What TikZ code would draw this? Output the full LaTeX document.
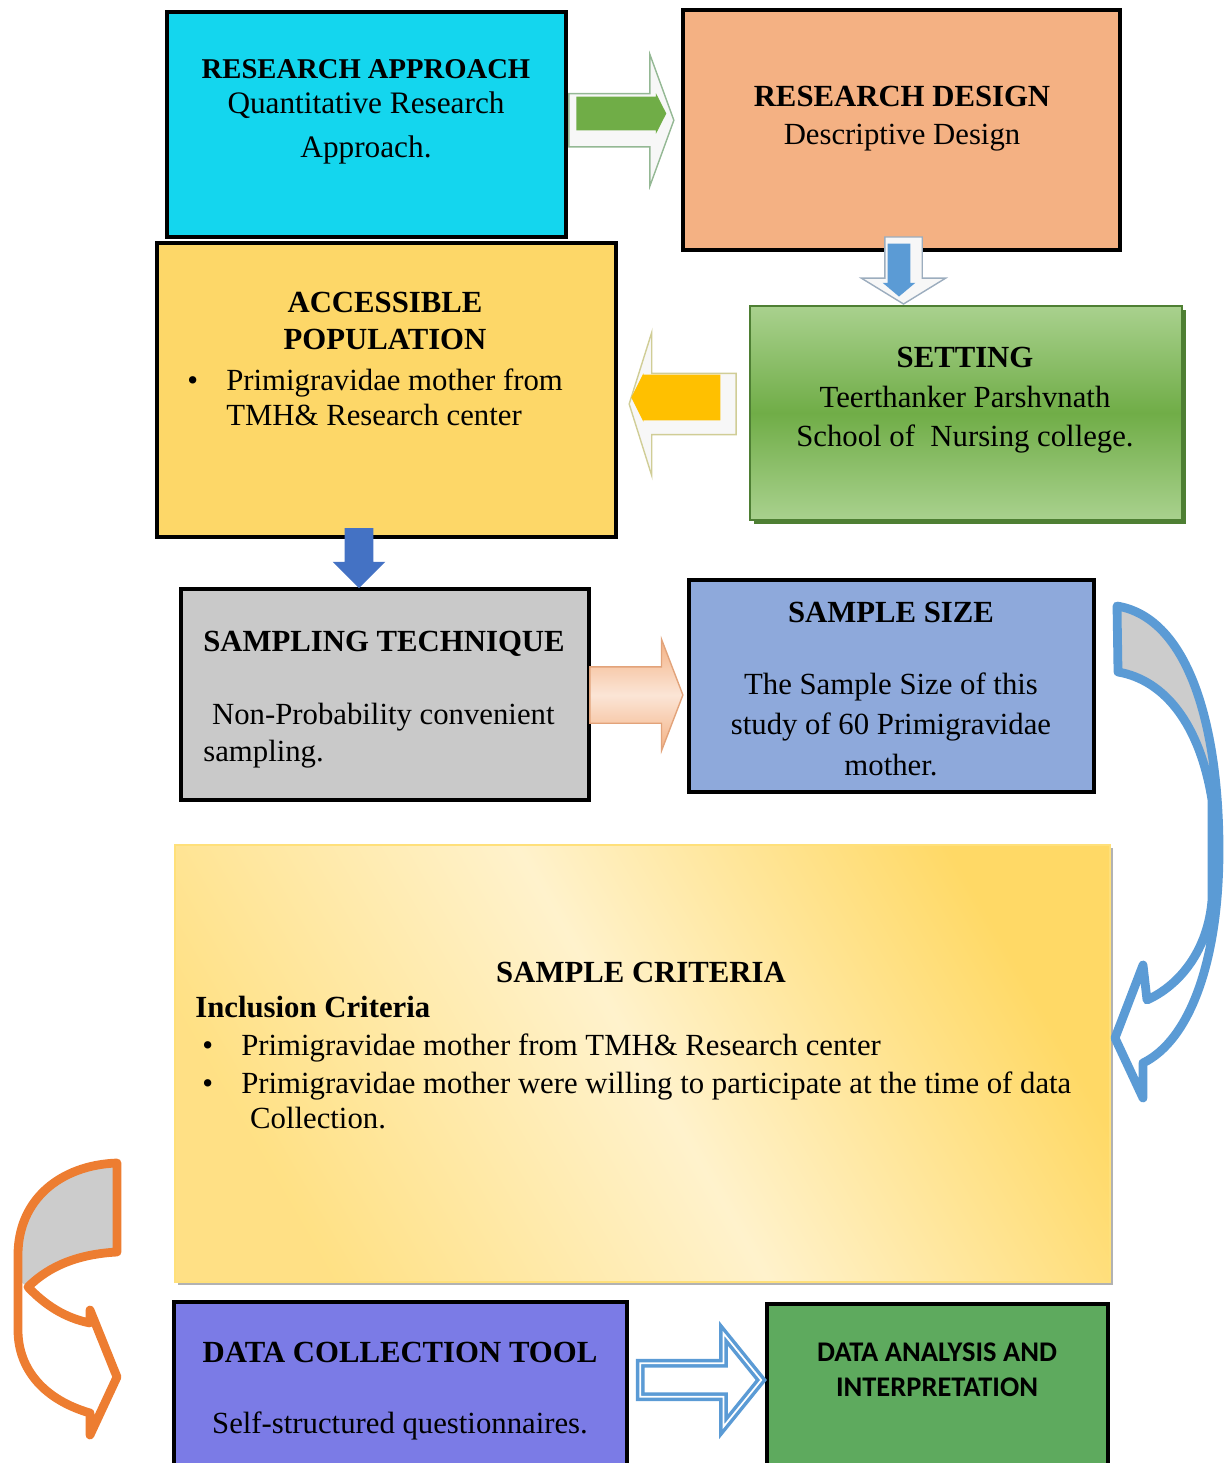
\documentclass[tikz,border=0pt]{standalone}
\usepackage{fontspec}
\setmainfont{Liberation Serif}
\newfontfamily\calibri{Carlito}
\usepackage{tikz}
\usetikzlibrary{shapes.arrows, shadows, calc}
\definecolor{approachcol}{HTML}{14D6EE}
\definecolor{designcol}{HTML}{F4B183}
\definecolor{popcol}{HTML}{FDD768}
\definecolor{settingdark}{HTML}{70AD47}
\definecolor{settinglight}{HTML}{A9D18E}
\definecolor{settingedge}{HTML}{4E7F33}
\definecolor{samplingcol}{HTML}{C9C9C9}
\definecolor{sizecol}{HTML}{8EA9DB}
\definecolor{critdark}{HTML}{FFD966}
\definecolor{critlight}{HTML}{FFF2CC}
\definecolor{critedge}{HTML}{FFE07A}
\definecolor{collectioncol}{HTML}{7B7BE6}
\definecolor{analysiscol}{HTML}{5EAA5E}
\definecolor{arrowgreen}{HTML}{70AD47}
\definecolor{arrowblue}{HTML}{5B9BD5}
\definecolor{arrowdblue}{HTML}{4472C4}
\definecolor{arrowyellow}{HTML}{FFC000}
\definecolor{arroworange}{HTML}{ED7D31}
\definecolor{peachlight}{HTML}{FBE5D6}
\definecolor{peachedge}{HTML}{E2A37A}
\tikzset{
	caja/.style={draw=black, line width=2.5pt, inner sep=0pt}, % cajas con borde negro
	texto/.style={inner sep=0pt, align=center, font=\fontsize{17.5}{21.5}\selectfont}, % textos de las cajas
	flecha/.style={single arrow, inner sep=0pt}, % flechas de bloque
	fondo/.style={flecha, fill=gray!6, line width=0.8pt}, % contorno claro de las flechas
	curva/.style={line width=5pt, line join=round} % flechas curvas
}

\begin{document}
\begin{tikzpicture}[x=0.02cm, y=-0.02cm]
	\useasboundingbox (0,0) rectangle (1225,1463);
	\clip (0,0) rectangle (1225,1463);

	% cajas
	\node[caja, fill=approachcol, minimum width=79.8mm, minimum height=45mm] (approach) at (366.5,124.5) {};
	\node[caja, fill=designcol, minimum width=87.4mm, minimum height=48mm] (design) at (901.5,130) {};
	\node[caja, fill=popcol, minimum width=91.8mm, minimum height=58.8mm] (population) at (386.5,390) {};
	\node[draw=settingedge, line width=0.8pt, top color=settinglight, bottom color=settinglight, middle color=settingdark,
		drop shadow={shadow xshift=2.5pt, shadow yshift=-2.5pt, fill=settingedge, opacity=1},
		minimum width=86.4mm, minimum height=42.8mm] (setting) at (966,413) {};
	\node[caja, fill=samplingcol, minimum width=81.6mm, minimum height=42.2mm] (sampling) at (385,694.5) {};
	\node[caja, fill=sizecol, minimum width=81mm, minimum height=42.4mm] (size) at (891.5,686) {};
	\node[draw=critedge, line width=1.2pt, shading=axis, top color=critdark, bottom color=critdark!70!critlight,
		middle color=critlight, shading angle=-60,
		drop shadow={shadow xshift=1.5pt, shadow yshift=-1.5pt, fill=black!30, opacity=1},
		minimum width=187mm, minimum height=87.4mm] (criteria) at (642.5,1063.5) {};
	\node[caja, fill=collectioncol, minimum width=90.6mm, minimum height=34.6mm] (collection) at (400.5,1388.5) {};
	\node[caja, fill=analysiscol, minimum width=68.2mm, minimum height=34.2mm] (analysis) at (937.5,1389.5) {};

	% textos
	\node[texto, anchor=north, font=\fontsize{17.8}{20}\selectfont] (approachtxt) at (366,59)
		{{\fontsize{16.3}{20}\selectfont\bfseries RESEARCH APPROACH}\\Quantitative Research\\[5pt]Approach.};
	\node[texto, anchor=north] (designtxt) at (902,86) {\textbf{RESEARCH DESIGN}\\Descriptive Design};
	\node[texto, anchor=north, font=\fontsize{17.5}{21}\selectfont] (poptitle) at (385,292) {\textbf{ACCESSIBLE}\\\textbf{POPULATION}};
	\node[texto, anchor=north west, align=left, font=\fontsize{17.5}{20}\selectfont] (poptxt) at (226,368)
		{\llap{\textbullet\hspace{16pt}}Primigravidae mother from\\TMH\& Research center};
	\node[texto, anchor=north, font=\fontsize{17.5}{22.5}\selectfont] (settingtxt) at (965,347)
		{\textbf{SETTING}\\Teerthanker Parshvnath\\School of~ Nursing college.};
	\node[texto, anchor=north] (samplingtitle) at (384,631) {\bfseries SAMPLING TECHNIQUE};
	\node[texto, anchor=north west, align=left, font=\fontsize{17.5}{21}\selectfont] (samplingtxt) at (203,703)
		{\hspace{5pt}Non-Probability convenient\\sampling.};
	\node[texto, anchor=north] (sizetitle) at (891,602) {\bfseries SAMPLE SIZE};
	\node[texto, anchor=north, font=\fontsize{17.5}{23.2}\selectfont] (sizetxt) at (891,672)
		{The Sample Size of this\\study of 60 Primigravidae\\mother.};
	\node[texto, anchor=north] (criteriatitle) at (641,962) {\bfseries SAMPLE CRITERIA};
	\node[texto, anchor=north west, align=left] (inclusion) at (195,996) {\bfseries Inclusion Criteria};
	\node[texto, anchor=north west, align=left, font=\fontsize{17.5}{20}\selectfont] (criteriatxt) at (241,1033)
		{\llap{\textbullet\hspace{16pt}}Primigravidae mother from TMH\& Research center\\[2pt]
		\llap{\textbullet\hspace{16pt}}Primigravidae mother were willing to participate at the time of data\\
		\hspace{5pt}Collection.};
	\node[texto, anchor=north] (collectiontitle) at (400,1342) {\bfseries DATA COLLECTION TOOL};
	\node[texto, anchor=north] (collectiontxt) at (400,1411) {Self-structured questionnaires.};
	\node[texto, anchor=north, font=\calibri\bfseries\fontsize{16.2}{20}\selectfont] (analysistxt) at (937,1342)
		{DATA ANALYSIS AND\\INTERPRETATION};

	% flechas de bloque
	\node[fondo, draw=green!20!gray!70, minimum height=21mm, inner sep=5.2mm, minimum width=26mm,
		single arrow head extend=7.8mm, single arrow tip angle=140]
		(a1) at ($(approach.east)!0.5!(design.west)+(-8,-7)$) {};
	\node[flecha, fill=arrowgreen, minimum height=18mm, inner sep=3.3mm, minimum width=8mm,
		single arrow head extend=0.7mm, single arrow tip angle=126] (a1in) at ($(a1)+(0.5,-6.75)$) {};
	\node[fondo, draw=arrowblue!40!gray!70, shape border rotate=270, minimum height=13.4mm, inner sep=3.6mm,
		minimum width=16.6mm, single arrow head extend=4.7mm, single arrow tip angle=117]
		(a2) at ($(design.south)+(2,12.6)$) {};
	\node[flecha, fill=arrowblue, shape border rotate=270, minimum height=10.6mm, inner sep=2.2mm,
		minimum width=6.4mm, single arrow head extend=1mm, single arrow tip angle=100] (a2in) at ($(a2)+(-4.5,0.5)$) {};
	\node[fondo, draw=yellow!40!gray!70, shape border rotate=180, minimum height=21.4mm, inner sep=6mm,
		minimum width=28.4mm, single arrow head extend=8.2mm, single arrow tip angle=145]
		(a3) at ($(setting.west)!0.5!(population.east)+(3.75,2.5)$) {};
	\node[flecha, fill=arrowyellow, shape border rotate=180, minimum height=17.8mm, inner sep=4.5mm,
		minimum width=9.6mm, single arrow head extend=0.3mm, single arrow tip angle=127] (a3in) at ($(a3)+(-6,-6.5)$) {};
	\node[flecha, fill=arrowdblue, shape border rotate=270, minimum height=12mm, inner sep=2.8mm,
		minimum width=10.4mm, single arrow head extend=2.4mm, single arrow tip angle=90]
		(a4) at ($(population.south)!0.5!(sampling.north)+(-26.75,-12)$) {};
	\node[flecha, draw=peachedge, line width=0.8pt, top color=designcol, bottom color=designcol, middle color=peachlight,
		minimum height=18.6mm, inner sep=5.5mm, minimum width=22mm, single arrow head extend=5.5mm, single arrow tip angle=138]
		(a5) at ($(sampling.east)!0.5!(size.west)+(-8,4.75)$) {};
	\node[flecha, draw=arrowblue, fill=white, line width=2pt, double=white, double distance=1pt,
		minimum height=24.2mm, inner sep=3mm, minimum width=18mm, single arrow head extend=6mm, single arrow tip angle=102]
		(a6) at ($(collection.east)!0.5!(analysis.west)+(-3,-9)$) {};

	% flecha curva azul
	\fill[gray!40] (1117,606) .. controls (1190,618) and (1219,730) .. (1219,850) -- (1212,800)
		.. controls (1200,725) and (1165,680) .. (1118,672) -- cycle;
	\draw[curva, arrowblue] (1117,606) .. controls (1190,618) and (1219,730) .. (1219,850)
		.. controls (1219,960) and (1190,1040) .. (1143,1063) -- (1143,1098) -- (1115,1038) -- (1143,965) -- (1147,1000)
		.. controls (1180,985) and (1208,950) .. (1212,900) -- (1212,800)
		.. controls (1200,725) and (1165,680) .. (1118,672) -- cycle;

	% flecha curva naranja
	\fill[gray!40] (117,1163) -- (117,1252) .. controls (80,1254) and (50,1265) .. (28,1287) -- (18,1280) -- (18,1255)
		.. controls (18,1200) and (60,1165) .. (117,1163) -- cycle;
	\draw[curva, arroworange] (117,1163) -- (117,1252) .. controls (80,1254) and (50,1265) .. (28,1287)
		.. controls (45,1305) and (65,1318) .. (90,1323) -- (90,1310) -- (117,1377) -- (90,1435) -- (90,1413)
		.. controls (45,1400) and (18,1370) .. (18,1330) -- (18,1255)
		.. controls (18,1200) and (60,1165) .. (117,1163) -- cycle;
\end{tikzpicture}
\end{document}
